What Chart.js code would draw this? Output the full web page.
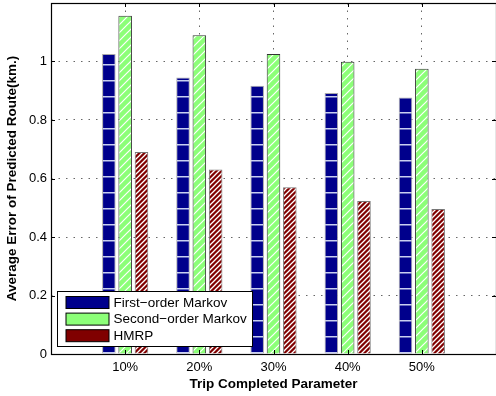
<!DOCTYPE html>
<html lang="en">
<head>
  <meta charset="UTF-8">
  <title>Average Error of Predicted Route</title>
  <script src="https://cdn.jsdelivr.net/npm/chart.js"></script>
  <style>
    body { margin: 0; background: #fff; }
    #wrap { width: 496px; height: 396px; }
  </style>
</head>
<body>
  <div id="wrap"><canvas id="errChart" width="496" height="396"></canvas></div>

  <script>
    // values
    const categories = ['10%', '20%', '30%', '40%', '50%'];
    const firstOrder = [1.026, 0.945, 0.917, 0.892, 0.877];
    const secondOrder = [1.156, 1.090, 1.026, 0.999, 0.975];
    const hmrp = [0.691, 0.631, 0.570, 0.523, 0.496];
    const seriesNames = ['First\u2212order Markov', 'Second\u2212order Markov', 'HMRP'];
    const yTicks = [0, 0.2, 0.4, 0.6, 0.8, 1];

    const FONT = "'Liberation Sans', Arial, Helvetica, sans-serif";

    // hatch fills like the matlab hatched bars
    function makePattern(bg, line, kind) {
      const c = document.createElement('canvas');
      const ctx = c.getContext('2d');
      if (kind === 'horiz') {
        c.width = 8; c.height = 16;
        ctx.fillStyle = bg; ctx.fillRect(0, 0, 8, 16);
        ctx.fillStyle = line; ctx.fillRect(0, 0, 8, 1.5);
      } else {
        const s = kind === 'fine' ? 5 : 8;
        c.width = s; c.height = s;
        ctx.fillStyle = bg; ctx.fillRect(0, 0, s, s);
        ctx.strokeStyle = line;
        ctx.lineWidth = kind === 'fine' ? 1.3 : 1.2;
        ctx.beginPath();
        ctx.moveTo(0, s); ctx.lineTo(s, 0);
        ctx.moveTo(-s / 2, s / 2); ctx.lineTo(s / 2, -s / 2);
        ctx.moveTo(s / 2, s * 1.5); ctx.lineTo(s * 1.5, s / 2);
        ctx.stroke();
      }
      return ctx.createPattern(c, 'repeat');
    }

    const solidColors = ['#00008c', '#8cff78', '#800000'];
    const fills = [
      makePattern(solidColors[0], '#c8cff0', 'horiz'),
      makePattern(solidColors[1], '#ffffff', 'wide'),
      makePattern(solidColors[2], '#ffffff', 'fine')
    ];
    const outlines = ['#aaaaaa', '#333333', '#777777'];

    // frame, inward tick marks and the boxed legend inside the plot
    const framePlugin = {
      id: 'frame',
      afterDraw(chart) {
        const { ctx, chartArea: a } = chart;
        const xs = chart.scales.x, ys = chart.scales.y;
        ctx.save();
        ctx.strokeStyle = '#000';
        ctx.lineWidth = 1;
        ctx.beginPath();
        ys.ticks.forEach((t, i) => {
          const py = Math.round(ys.getPixelForTick(i)) + 0.5;
          ctx.moveTo(a.left, py); ctx.lineTo(a.left + 4, py);
          ctx.moveTo(a.right, py); ctx.lineTo(a.right - 4, py);
        });
        xs.ticks.forEach((t, i) => {
          if (i === 0 || i === xs.ticks.length - 1) return;
          const px = Math.round(xs.getPixelForTick(i)) + 0.5;
          ctx.moveTo(px, a.top); ctx.lineTo(px, a.top + 4);
          ctx.moveTo(px, a.bottom); ctx.lineTo(px, a.bottom - 4);
        });
        ctx.stroke();
        ctx.lineWidth = 1.2;
        ctx.strokeRect(Math.round(a.left) + 0.5, Math.round(a.top) + 0.5,
          Math.round(a.right - a.left), Math.round(a.bottom - a.top));

        // legend
        const bx = Math.round(a.left) + 6.5, bw = 195, bh = 55;
        const by = Math.round(a.bottom) - 7.5 - bh;
        ctx.fillStyle = '#fff';
        ctx.fillRect(bx, by, bw, bh);
        ctx.lineWidth = 1;
        ctx.strokeRect(bx, by, bw, bh);
        ctx.font = '13.5px ' + FONT;
        ctx.textBaseline = 'middle';
        chart.data.datasets.forEach((ds, i) => {
          const cy = by + 11 + i * 16.6;
          ctx.fillStyle = solidColors[i];
          ctx.fillRect(bx + 8.5, cy - 6, 43, 12);
          ctx.strokeStyle = '#000';
          ctx.strokeRect(bx + 8.5, cy - 6, 43, 12);
          ctx.fillStyle = '#000';
          ctx.fillText(ds.label, bx + 56, cy + 0.5);
        });
        ctx.restore();
      }
    };

    const labels = [''].concat(categories, ['']);
    const pad = arr => [null].concat(arr, [null]);

    new Chart(document.getElementById('errChart'), {
      type: 'bar',
      data: {
        labels,
        datasets: [firstOrder, secondOrder, hmrp].map((vals, i) => ({
          label: seriesNames[i],
          data: pad(vals),
          backgroundColor: fills[i],
          borderColor: outlines[i],
          borderWidth: 1,
          borderSkipped: 'bottom',
          categoryPercentage: 0.66,
          barPercentage: 0.83
        }))
      },
      options: {
        responsive: false,
        animation: false,
        devicePixelRatio: 1,
        layout: { padding: { top: 3, right: 0, left: 0, bottom: 0 } },
        plugins: {
          legend: { display: false },
          tooltip: { enabled: false }
        },
        scales: {
          x: {
            offset: false,
            grid: {
              offset: false,
              drawTicks: false,
              color: c => (c.index === 0 || c.index === labels.length - 1) ? 'rgba(0,0,0,0)' : 'rgba(0,0,0,0.6)',
              lineWidth: 1
            },
            border: { display: false, dash: [1.5, 6] },
            ticks: {
              color: '#000',
              font: { family: FONT, size: 13 },
              padding: 6,
              autoSkip: false,
              maxRotation: 0
            },
            title: {
              display: true,
              text: 'Trip Completed Parameter',
              color: '#000',
              font: { family: FONT, size: 13.5, weight: 'bold' },
              padding: { top: 0, bottom: 4 }
            },
            afterFit: s => {
              s.height = 42;
              s.paddingLeft = 0; s.paddingRight = 0;
            }
          },
          y: {
            min: 0,
            max: 1.2,
            afterBuildTicks: s => { s.ticks = yTicks.map(v => ({ value: v })); },
            grid: {
              drawTicks: false,
              color: c => (c.tick && c.tick.value === 0) ? 'rgba(0,0,0,0)' : 'rgba(0,0,0,0.6)',
              lineWidth: 1
            },
            border: { display: false, dash: [1.5, 6] },
            ticks: {
              color: '#000',
              font: { family: FONT, size: 13 },
              padding: 4,
              callback: v => String(Number(v.toFixed(1)))
            },
            title: {
              display: true,
              text: 'Average Error of Predicted Route(km.)',
              color: '#000',
              font: { family: FONT, size: 13.5, weight: 'bold' },
              padding: { top: 4, bottom: 0 }
            },
            afterFit: s => {
              s.width = 51;
              s.paddingTop = 0; s.paddingBottom = 0;
            }
          }
        }
      },
      plugins: [framePlugin]
    });
  </script>
</body>
</html>
